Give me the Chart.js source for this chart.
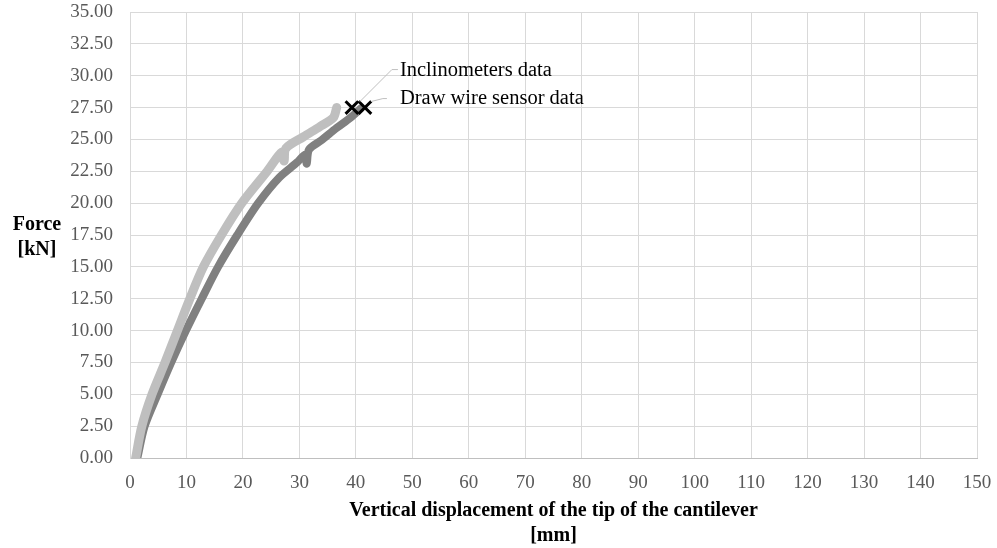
<!DOCTYPE html>
<html>
<head>
<meta charset="utf-8">
<script src="https://cdn.jsdelivr.net/npm/chart.js@4.4.0/dist/chart.umd.min.js"></script>
<style>
  html, body { margin: 0; padding: 0; background: #ffffff; }
  #wrap { width: 997px; height: 548px; }
</style>
</head>
<body>
<div id="wrap"><canvas id="forceChart" width="997" height="548"></canvas></div>
<script>
// Force vs tip displacement, two measurement methods
const inclinometerX = [1.0, 2.1, 3.9, 6.2, 8.4, 10.6, 13.0, 16.2, 19.8, 24.3, 26.9, 27.3, 27.6, 30.7, 33.6, 36.0, 36.6];
const inclinometerF = [0.0, 2.5, 5.0, 7.5, 10.0, 12.5, 15.0, 17.5, 20.0, 22.5, 24.0, 23.3, 24.3, 25.2, 26.0, 26.7, 27.5];

const drawWireX = [1.3, 2.6, 4.9, 7.3, 9.9, 12.7, 15.6, 19.0, 22.7, 26.4, 29.6, 31.0, 31.3, 31.7, 33.8, 36.6, 39.0, 40.8];
const drawWireF = [0.0, 2.5, 5.0, 7.5, 10.0, 12.5, 15.0, 17.5, 20.0, 22.0, 23.2, 23.8, 23.1, 24.2, 24.9, 25.9, 26.7, 27.4];

// final readings marked with a cross
const peakInclinometer = [39.3, 27.5];
const peakDrawWire = [41.6, 27.5];

const seriesLabels = ['Inclinometers data', 'Draw wire sensor data'];
const xTitle = ['Vertical displacement of the tip of the cantilever', '[mm]'];
const yTitle = ['Force', '[kN]'];

const serif = "'Liberation Serif', 'Times New Roman', serif";

function toPoints(xs, ys) {
  return xs.map((x, i) => ({ x: x, y: ys[i] }));
}

// axis titles + callout labels drawn straight onto the canvas
const labelsPlugin = {
  id: 'labels',
  afterDatasetsDraw(chart) {
    const ctx = chart.ctx;
    const area = chart.chartArea;
    const xs = chart.scales.x;
    const ys = chart.scales.y;
    ctx.save();

    // callout leader lines from the crosses
    ctx.strokeStyle = '#bfbfbf';
    ctx.lineWidth = 1;
    const p1x = xs.getPixelForValue(peakInclinometer[0]);
    const p1y = ys.getPixelForValue(peakInclinometer[1]);
    ctx.beginPath();
    ctx.moveTo(p1x + 8, p1y - 6);
    ctx.lineTo(p1x + 40, p1y - 38);
    ctx.lineTo(p1x + 46, p1y - 38);
    ctx.stroke();

    const p2x = xs.getPixelForValue(peakDrawWire[0]);
    const p2y = ys.getPixelForValue(peakDrawWire[1]);
    ctx.beginPath();
    ctx.moveTo(p2x + 6, p2y - 6);
    ctx.lineTo(p2x + 18, p2y - 9);
    ctx.lineTo(p2x + 22, p2y - 9);
    ctx.stroke();

    ctx.fillStyle = '#000000';
    ctx.font = "20.5px " + serif;
    ctx.textAlign = 'left';
    ctx.textBaseline = 'middle';
    ctx.fillText(seriesLabels[0], p1x + 48, p1y - 37);
    ctx.fillText(seriesLabels[1], p2x + 35, p2y - 9);

    // x axis title, two lines
    ctx.font = "bold 20px " + serif;
    ctx.textAlign = 'center';
    const cx = (area.left + area.right) / 2;
    ctx.fillText(xTitle[0], cx, area.bottom + 53);
    ctx.fillText(xTitle[1], cx, area.bottom + 78);

    // y axis title, horizontal
    ctx.fillText(yTitle[0], 37, 225);
    ctx.fillText(yTitle[1], 37, 250);

    ctx.restore();
  }
};

const ctx = document.getElementById('forceChart').getContext('2d');
new Chart(ctx, {
  type: 'scatter',
  data: {
    datasets: [
      {
        label: 'Inclinometers peak',
        data: [{ x: peakInclinometer[0], y: peakInclinometer[1] }],
        pointStyle: 'crossRot',
        pointRadius: 9,
        borderColor: '#000000',
        borderWidth: 3,
        showLine: false
      },
      {
        label: 'Draw wire peak',
        data: [{ x: peakDrawWire[0], y: peakDrawWire[1] }],
        pointStyle: 'crossRot',
        pointRadius: 9,
        borderColor: '#000000',
        borderWidth: 3,
        showLine: false
      },
      {
        label: seriesLabels[0],
        data: toPoints(inclinometerX, inclinometerF),
        showLine: true,
        borderColor: '#bfbfbf',
        borderWidth: 9,
        borderCapStyle: 'round',
        borderJoinStyle: 'round',
        pointRadius: 0,
        tension: 0.3
      },
      {
        label: seriesLabels[1],
        data: toPoints(drawWireX, drawWireF),
        showLine: true,
        borderColor: '#808080',
        borderWidth: 8,
        borderCapStyle: 'round',
        borderJoinStyle: 'round',
        pointRadius: 0,
        tension: 0.3
      }
    ]
  },
  options: {
    responsive: false,
    animation: false,
    layout: { padding: { left: 0, right: 20, top: 11, bottom: 0 } },
    plugins: {
      legend: { display: false },
      tooltip: { enabled: false }
    },
    scales: {
      x: {
        type: 'linear',
        min: 0,
        max: 150,
        ticks: {
          stepSize: 10,
          padding: 14,
          color: '#595959',
          font: { family: serif, size: 19 }
        },
        grid: { color: '#d9d9d9', drawTicks: false },
        border: { color: '#bfbfbf' },
        afterFit(scale) {
          scale.height = 90;
          scale.paddingLeft = 0;
          scale.paddingRight = 0;
        }
      },
      y: {
        min: 0,
        max: 35,
        ticks: {
          stepSize: 2.5,
          padding: 17,
          color: '#595959',
          font: { family: serif, size: 19 },
          callback: v => v.toFixed(2)
        },
        grid: { color: '#d9d9d9', drawTicks: false },
        border: { color: '#d9d9d9' },
        afterFit(scale) {
          scale.width = 130;
          scale.paddingTop = 0;
          scale.paddingBottom = 0;
        }
      }
    }
  },
  plugins: [labelsPlugin]
});
</script>
</body>
</html>
